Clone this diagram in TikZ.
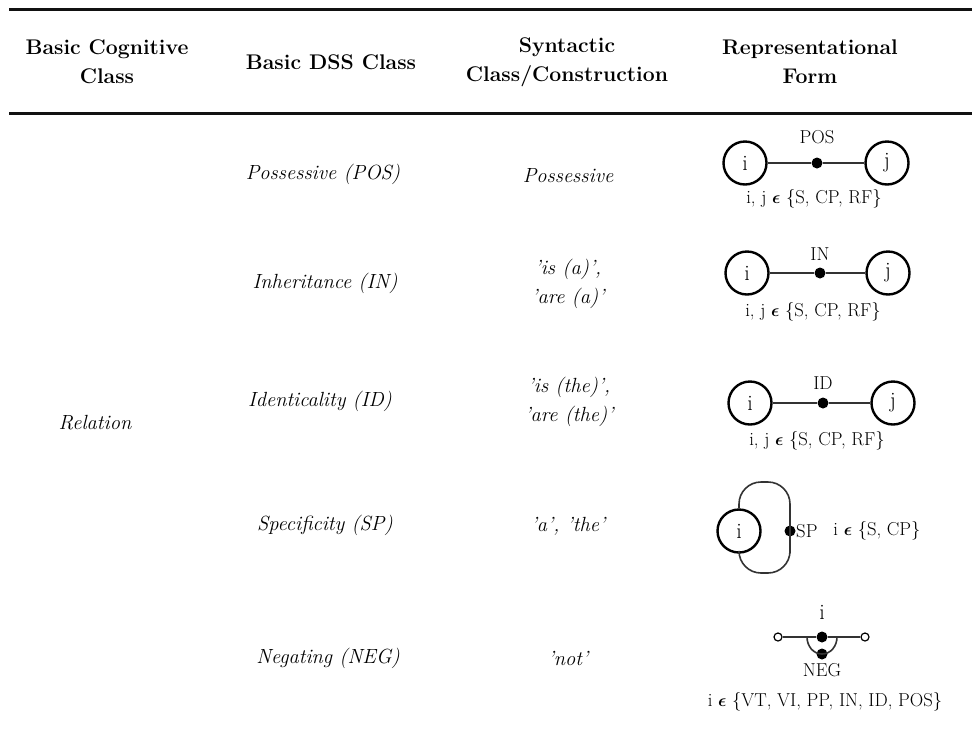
\documentclass[tikz,border=0pt]{standalone}
\usepackage{amsmath}
\usepackage{amssymb}
\usepackage{fontspec}
\usepackage{tikz}
\usepackage{xcolor}
\usetikzlibrary{calc}
\definecolor{rulecolor}{HTML}{111111}
\definecolor{edgecolor}{HTML}{333333}
\newcommand{\elemof}{$\boldsymbol{\epsilon}$}% set membership
\tikzstyle{headtext} =[
    align=center,
    font=\fontsize{21.2}{29}\selectfont\bfseries
    ]
\tikzstyle{celltext} =[
    align=center,
    font=\fontsize{20.5}{29}\selectfont\itshape
    ]
\tikzstyle{entity} = [
    circle,
    draw,
    line width=2.4pt,
    minimum size=43pt,
    inner sep=0pt,
    font=\fontsize{22}{22}\selectfont
    ]
\tikzstyle{reldot} = [circle, fill, minimum size=11pt, inner sep=0pt]
\tikzstyle{opendot} = [circle, draw, fill=white, line width=1.2pt, minimum size=8pt, inner sep=0pt]
\tikzstyle{tag} = [font=\fontsize{18.7}{18.7}\selectfont, inner sep=1pt]
\tikzstyle{link} = [draw=edgecolor, line width=1.6pt]

\begin{document}
\begin{tikzpicture}[x=1pt, y=-1pt]
\useasboundingbox (0,0) rectangle (972,729);
% rules
\draw[rulecolor, line width=3pt] (9,9) -- (972,9);
\draw[rulecolor, line width=3pt] (9,113) -- (972,113);
% header
\node[headtext] (hcog) at (107,62) {Basic Cognitive\\Class};
\node[headtext] (hdss) at (331,62) {Basic DSS Class};
\node[headtext] (hsyn) at (567,62) {Syntactic\\Class/Construction};
\node[headtext] (hrep) at (810,62) {Representational\\Form};
% first column
\node[celltext] (relation) at (95,423) {Relation};
% second and third columns
\node[celltext] (pos) at (323,174) {Possessive (POS)};
\node[celltext] (possyn) at (568,176) {Possessive};
\node[celltext] (inh) at (325,283) {Inheritance (IN)};
\node[celltext] (inhsyn) at (568,284) {'is (a)',\\'are (a)'};
\node[celltext] (ident) at (320,401) {Identicality (ID)};
\node[celltext] (identsyn) at (569,402) {'is (the)',\\'are (the)'};
\node[celltext] (spec) at (325,525) {Specificity (SP)};
\node[celltext] (specsyn) at (568,526) {'a', 'the'};
\node[celltext] (neg) at (328,658) {Negating (NEG)};
\node[celltext] (negsyn) at (568,658) {'not'};
% POS form
\node[entity] (posi) at (745,163) {i};
\node[entity] (posj) at (887,163) {j};
\node[reldot] (posd) at (817,163) {};
\node[tag] (posl) at (817,137) {POS};
\node[tag] (poss) at (814,199) {i, j \elemof\ \{S, CP, RF\}};
\draw[link] (posi) -- (posd) -- (posj);
% IN form
\node[entity] (inhi) at (747,273) {i};
\node[entity] (inhj) at (888,273) {j};
\node[reldot] (inhd) at (820,273) {};
\node[tag] (inhl) at (820,254) {IN};
\node[tag] (inhs) at (813,312) {i, j \elemof\ \{S, CP, RF\}};
\draw[link] (inhi) -- (inhd) -- (inhj);
% ID form
\node[entity] (idi) at (750,403) {i};
\node[entity] (idj) at (893,403) {j};
\node[reldot] (idd) at (823,403) {};
\node[tag] (idl) at (823,383) {ID};
\node[tag] (ids) at (817,441) {i, j \elemof\ \{S, CP, RF\}};
\draw[link] (idi) -- (idd) -- (idj);
% SP form
\node[entity] (spi) at (739,531) {i};
\node[reldot] (spd) at (790,531) {};
\node[tag, anchor=west] (spl) at (795,531) {SP};
\node[tag] (sps) at (877,531) {i \elemof\ \{S, CP\}};
\draw[link, rounded corners=22pt] (spi.north) |- (790,482) -- (spd.center) |- (739,573) -- (spi.south);
% NEG form
\node[tag, font=\fontsize{22}{22}\selectfont] (negi) at (822,612) {i};
\node[opendot] (negl) at (778,637) {};
\node[opendot] (negr) at (865,637) {};
\node[reldot] (negt) at (822,637) {};
\node[reldot] (negb) at (822,654) {};
\coordinate (negul) at (807,637);
\coordinate (negur) at (837,637);
\node[tag] (negn) at (822,670) {NEG};
\node[tag] (negs) at (825,702) {i \elemof\ \{VT, VI, PP, IN, ID, POS\}};
\draw[link] (negl) -- (negt) -- (negr);
\draw[link] (negul) to[out=-90, in=180] (negb.center) to[out=0, in=-90] (negur);
\end{tikzpicture}
\end{document}
